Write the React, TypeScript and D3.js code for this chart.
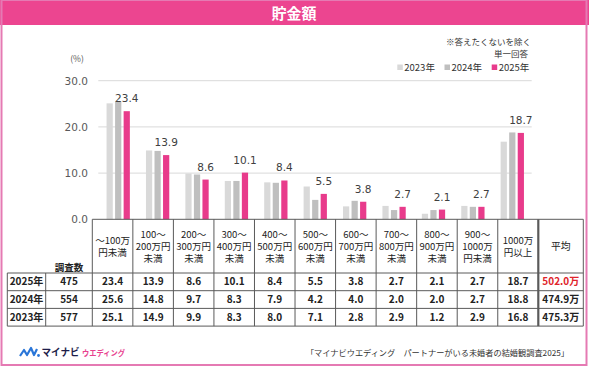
import React from 'react';
import * as d3 from 'd3';

// --- data ---
const categories = ['～100万円未満', '100～200万円未満', '200～300万円未満', '300～400万円未満', '400～500万円未満',
  '500～600万円未満', '600～700万円未満', '700～800万円未満', '800～900万円未満', '900～1000万円未満', '1000万円以上'];
const headerLines = [
  ['～100万', '円未満'],
  ['100～', '200万円', '未満'],
  ['200～', '300万円', '未満'],
  ['300～', '400万円', '未満'],
  ['400～', '500万円', '未満'],
  ['500～', '600万円', '未満'],
  ['600～', '700万円', '未満'],
  ['700～', '800万円', '未満'],
  ['800～', '900万円', '未満'],
  ['900～', '1000万', '円未満'],
  ['1000万', '円以上'],
];
const years = ['2023年', '2024年', '2025年'];
const values2023 = [25.1, 14.9, 9.9, 8.3, 8.0, 7.1, 2.8, 2.9, 1.2, 2.9, 16.8];
const values2024 = [25.6, 14.8, 9.7, 8.3, 7.9, 4.2, 4.0, 2.0, 2.0, 2.7, 18.8];
const values2025 = [23.4, 13.9, 8.6, 10.1, 8.4, 5.5, 3.8, 2.7, 2.1, 2.7, 18.7];
const tableRows = ['2025年', '2024年', '2023年'];
const sampleSizes = [475, 554, 577];
const averages = ['502.0万', '474.9万', '475.3万'];
const yTicks = [0, 10, 20, 30];

const colors = ['#d9d9d9', '#bfbfbf', '#e83b8b'];
const JP = "'Noto Sans CJK JP', 'Noto Sans', sans-serif";
const NUM = "'DejaVu Sans', 'Noto Sans CJK JP', sans-serif";

export default function App() {
  const W = 589, H = 368;
  const seriesByYear = [values2023, values2024, values2025];
  const tableValues = [values2025, values2024, values2023];

  const x = d3.scaleBand().domain(categories).range([98.5, 532]).padding(0);
  const xi = d3.scaleBand().domain(years).range([0, 23.3]).paddingInner(0.27);
  const y = d3.scaleLinear().domain([0, 30]).range([219.3, 80.7]);
  const tx = d3.scaleBand().domain(categories).range([92.3, 538.3]);

  const rowTop = 273, rowH = 17.7;
  const tableRight = 583.3, avgLeft = 538.3;
  const lineColor = '#5a5a5a';

  const clusterX = (c) => x(c)! + x.bandwidth() / 2 - 11.65;

  return (
    <svg width={W} height={H} style={{position: 'fixed', left: 0, top: 0, background: '#fff'}}>
      {/* title bar + frame */}
      <rect x={0} y={0} width={W} height={25} fill="#ec4590" />
      <text x={294} y={18.5} textAnchor="middle" fill="#fff" fontFamily={JP} fontWeight="bold" fontSize={15}>貯金額</text>
      <rect x={1.5} y={0} width={585} height={365} fill="none" stroke="#e57ab3" strokeWidth={2} />

      {/* notes + legend */}
      <text x={531} y={45} textAnchor="end" fontFamily={JP} fontSize={8.5} fill="#333">※答えたくないを除く</text>
      <text x={528} y={57} textAnchor="end" fontFamily={JP} fontSize={8.5} fill="#333">単一回答</text>
      {years.map((yr, i) => (
        <g key={yr} transform={`translate(${397.3 + i * 47.2},67.5)`}>
          <rect x={0} y={-3} width={5.5} height={5.5} fill={colors[i]} />
          <text x={7} y={3.5} fontFamily={JP} fontSize={9.5} fill="#333">{yr}</text>
        </g>
      ))}

      {/* y axis */}
      <text x={77} y={62} textAnchor="middle" fontFamily={JP} fontSize={8.5} fill="#555">(%)</text>
      {yTicks.map(t => (
        <g key={t}>
          {t > 0 && <line x1={98.3} x2={531.7} y1={y(t)} y2={y(t)} stroke="#d9d9d9" strokeWidth={1} />}
          <text x={88} y={y(t) + 3.8} textAnchor="end" fontFamily={NUM} fontSize={10.5} fill="#595959">{t.toFixed(1)}</text>
        </g>
      ))}

      {/* bars */}
      {categories.map((c, ci) => (
        <g key={c}>
          {years.map((yr, yi) => {
            const v = seriesByYear[yi][ci];
            return <rect key={yr} x={clusterX(c) + xi(yr)!} y={y(v)} width={xi.bandwidth()} height={y(0) - y(v)} fill={colors[yi]} />;
          })}
          <text x={clusterX(c) + xi('2025年')! + xi.bandwidth() / 2} y={y(values2025[ci]) - 9}
            textAnchor="middle" fontFamily={NUM} fontSize={10.5} fill="#404040">{values2025[ci].toFixed(1)}</text>
        </g>
      ))}

      {/* table grid */}
      <line x1={92.3} x2={tableRight} y1={219.3} y2={219.3} stroke={lineColor} />
      {[0, 1, 2, 3].map(i => (
        <line key={i} x1={7.3} x2={tableRight} y1={rowTop + i * rowH} y2={rowTop + i * rowH} stroke={lineColor} />
      ))}
      {[7.3, 45.7].map(xx => (
        <line key={xx} x1={xx} x2={xx} y1={rowTop} y2={rowTop + 3 * rowH} stroke={lineColor} />
      ))}
      {[...categories.map(c => tx(c)!), tableRight].map(xx => (
        <line key={xx} x1={xx} x2={xx} y1={219.3} y2={rowTop + 3 * rowH} stroke={lineColor} />
      ))}
      <line x1={avgLeft} x2={avgLeft} y1={219.3} y2={rowTop + 3 * rowH} stroke={lineColor} strokeWidth={2.2} />

      {/* table header */}
      <text x={69} y={271} textAnchor="middle" fontFamily={JP} fontWeight="bold" fontSize={9.5} fill="#222">調査数</text>
      {categories.map((c, ci) => {
        const lines = headerLines[ci];
        const cy = 246.5 - ((lines.length - 1) * 11.8) / 2;
        return lines.map((ln, li) => (
          <text key={c + li} x={tx(c)! + tx.bandwidth() / 2} y={cy + li * 11.8 + 3.4}
            textAnchor="middle" fontFamily={JP} fontSize={9.5} fill="#222">{ln}</text>
        ));
      })}
      <text x={(avgLeft + tableRight) / 2} y={250} textAnchor="middle" fontFamily={JP} fontSize={9.8} fill="#222">平均</text>

      {/* table body */}
      {tableRows.map((r, ri) => {
        const cy = rowTop + ri * rowH + rowH / 2 + 3.6;
        return (
          <g key={r} fontFamily={JP} fontWeight="bold" fontSize={10} fill="#222" textAnchor="middle">
            <text x={26.5} y={cy}>{r}</text>
            <text x={69} y={cy}>{sampleSizes[ri]}</text>
            {categories.map((c, ci) => (
              <text key={c} x={tx(c)! + tx.bandwidth() / 2} y={cy}>{tableValues[ri][ci].toFixed(1)}</text>
            ))}
            <text x={(avgLeft + tableRight) / 2} y={cy} fill={ri === 0 ? '#e0242b' : '#222'}>{averages[ri]}</text>
          </g>
        );
      })}

      {/* footer */}
      <g transform="translate(20,347)">
        <path d="M0,9 L4,3 L7,8 L11,1 L14,8 L17,2" fill="none" stroke="#2a76d8" strokeWidth={2.2} strokeLinejoin="round" />
        <circle cx={18.5} cy={8.5} r={1.4} fill="#2a76d8" />
      </g>
      <text x={41.5} y={356} fontFamily={JP} fontWeight="bold" fontSize={10} fill="#1d1d4a"
        textLength={38} lengthAdjust="spacingAndGlyphs">マイナビ</text>
      <text x={82} y={356} fontFamily={JP} fontWeight="bold" fontSize={7.5} fill="#e8418e"
        textLength={43} lengthAdjust="spacingAndGlyphs">ウエディング</text>
      <text x={569} y={355.5} textAnchor="end" fontFamily={JP} fontSize={8.2} fill="#333">「マイナビウエディング　パートナーがいる未婚者の結婚観調査2025」</text>
    </svg>
  );
}
